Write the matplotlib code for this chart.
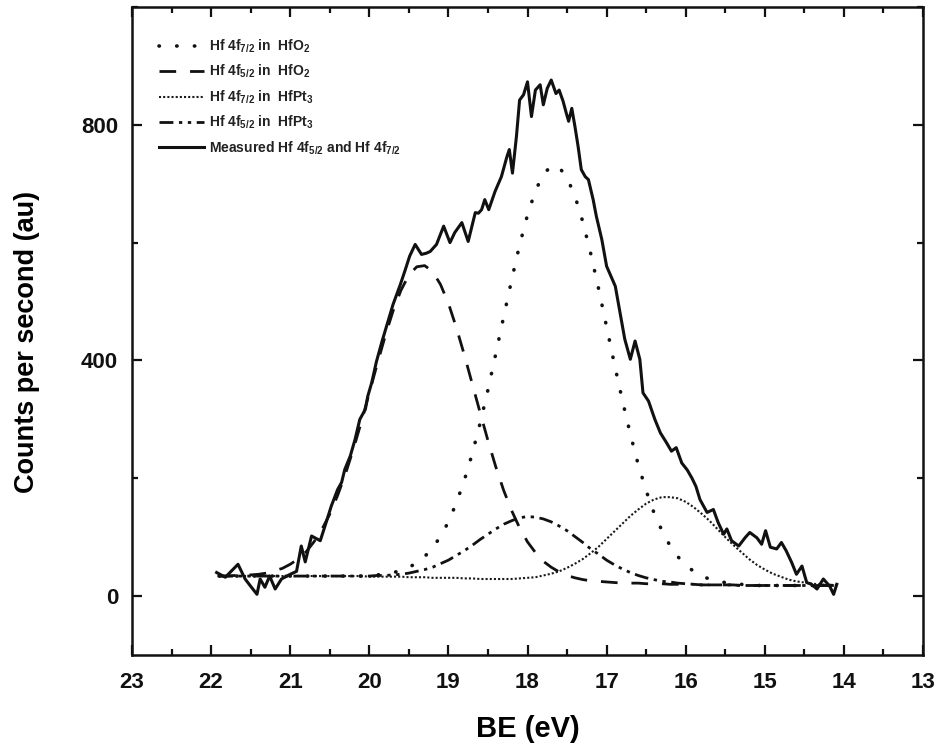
import matplotlib
matplotlib.use("Agg")
import matplotlib.pyplot as plt
from matplotlib.ticker import MultipleLocator

plt.rcParams['font.family'] = ['Liberation Sans', 'DejaVu Sans']
plt.rcParams['mathtext.fontset'] = 'custom'
plt.rcParams['mathtext.rm'] = 'Liberation Sans:bold'
plt.rcParams['mathtext.bf'] = 'Liberation Sans:bold'
plt.rcParams['mathtext.default'] = 'bf'

# Binding-energy grid for the fitted components (eV)
fit_be = [21.9, 21.8, 21.7, 21.6, 21.5, 21.4, 21.3, 21.2, 21.1, 21.0,
          20.9, 20.8, 20.7, 20.6, 20.5, 20.4, 20.3, 20.2, 20.1, 20.0,
          19.9, 19.8, 19.7, 19.6, 19.5, 19.4, 19.3, 19.2, 19.1, 19.0,
          18.9, 18.8, 18.7, 18.6, 18.5, 18.4, 18.3, 18.2, 18.1, 18.0,
          17.9, 17.8, 17.7, 17.6, 17.5, 17.4, 17.3, 17.2, 17.1, 17.0,
          16.9, 16.8, 16.7, 16.6, 16.5, 16.4, 16.3, 16.2, 16.1, 16.0,
          15.9, 15.8, 15.7, 15.6, 15.5, 15.4, 15.3, 15.2, 15.1, 15.0,
          14.9, 14.8, 14.7, 14.6, 14.5, 14.4, 14.3, 14.2, 14.1]

# Fitted components (background included)
hfo2_f72 = [34, 34, 34, 34, 34, 34, 34, 34, 34, 34,
            34, 34, 34, 34, 34, 34, 34, 34, 34, 35,
            36, 37, 40, 43, 49, 56, 67, 82, 101, 126,
            158, 196, 241, 293, 350, 412, 475, 537, 596, 647,
            688, 716, 730, 728, 710, 679, 635, 581, 521, 457,
            393, 332, 275, 223, 179, 141, 111, 86, 67, 53,
            42, 34, 29, 25, 23, 21, 20, 19, 18, 18,
            18, 18, 18, 18, 18, 18, 18, 18, 18]

hfo2_f52 = [34, 34, 35, 35, 36, 37, 39, 43, 47, 54,
            63, 75, 92, 113, 139, 171, 208, 250, 296, 345,
            394, 441, 484, 519, 545, 559, 561, 551, 529, 497,
            456, 410, 361, 312, 264, 219, 179, 145, 116, 92,
            74, 59, 49, 41, 35, 31, 28, 26, 25, 24,
            23, 22, 22, 22, 21, 21, 21, 20, 20, 20,
            20, 19, 19, 19, 19, 19, 18, 18, 18, 18,
            18, 18, 18, 18, 18, 18, 18, 18, 18]

hfpt3_f72 = [34, 34, 34, 34, 34, 34, 34, 34, 34, 34,
             34, 34, 34, 34, 34, 34, 34, 34, 34, 33,
             33, 33, 33, 33, 32, 32, 32, 31, 31, 31,
             31, 30, 30, 29, 29, 29, 29, 29, 30, 31,
             32, 35, 38, 42, 48, 55, 63, 73, 84, 97,
             110, 123, 136, 147, 157, 164, 168, 168, 166, 160,
             151, 140, 128, 114, 100, 87, 75, 63, 53, 45,
             38, 33, 28, 25, 23, 21, 20, 19, 19]

hfpt3_f52 = [34, 34, 34, 34, 34, 34, 34, 34, 34, 34,
             34, 34, 34, 34, 34, 34, 34, 34, 34, 34,
             35, 35, 36, 37, 39, 42, 45, 49, 55, 61,
             69, 77, 86, 96, 105, 114, 122, 128, 133, 135,
             134, 131, 126, 119, 111, 101, 91, 80, 71, 61,
             53, 46, 40, 35, 31, 28, 25, 24, 22, 21,
             20, 19, 19, 19, 19, 19, 18, 18, 18, 18,
             18, 18, 18, 18, 18, 18, 18, 18, 18]

# Measured Hf 4f spectrum
meas_be = [21.93, 21.82, 21.66, 21.57, 21.49, 21.42, 21.38, 21.32, 21.26, 21.19,
           21.11, 21.00, 20.92, 20.86, 20.81, 20.73, 20.62, 20.56, 20.48, 20.40,
           20.35, 20.31, 20.24, 20.18, 20.12, 20.05, 20.02, 19.97, 19.91, 19.84,
           19.76, 19.70, 19.61, 19.55, 19.49, 19.42, 19.34, 19.28, 19.23, 19.15,
           19.06, 18.98, 18.92, 18.83, 18.75, 18.66, 18.62, 18.58, 18.54, 18.49,
           18.41, 18.33, 18.26, 18.23, 18.19, 18.14, 18.10, 18.05, 18.00, 17.95,
           17.90, 17.84, 17.80, 17.75, 17.70, 17.64, 17.60, 17.55, 17.51, 17.48,
           17.44, 17.40, 17.36, 17.32, 17.27, 17.23, 17.17, 17.13, 17.06, 17.00,
           16.89, 16.83, 16.77, 16.70, 16.64, 16.58, 16.54, 16.47, 16.39, 16.32,
           16.25, 16.18, 16.12, 16.05, 15.98, 15.92, 15.87, 15.82, 15.73, 15.65,
           15.59, 15.52, 15.48, 15.42, 15.33, 15.25, 15.19, 15.10, 15.04, 14.99,
           14.93, 14.85, 14.79, 14.73, 14.66, 14.60, 14.53, 14.47, 14.41, 14.34,
           14.26, 14.18, 14.13, 14.09]
meas_cps = [40, 32, 54, 29, 15, 3, 29, 15, 34, 12,
            29, 37, 42, 85, 58, 102, 94, 119, 153, 181,
            193, 215, 238, 266, 300, 317, 339, 362, 398, 432,
            468, 495, 528, 552, 577, 597, 580, 582, 585, 597,
            628, 600, 617, 634, 602, 651, 650, 656, 673, 656,
            687, 712, 746, 758, 718, 780, 842, 851, 873, 814,
            859, 868, 834, 862, 876, 853, 859, 840, 820, 806,
            828, 797, 763, 724, 712, 707, 673, 645, 605, 560,
            526, 481, 436, 402, 433, 402, 345, 331, 300, 277,
            262, 246, 252, 226, 214, 200, 186, 164, 142, 147,
            125, 105, 114, 94, 85, 99, 108, 99, 88, 111,
            83, 80, 91, 77, 57, 37, 51, 23, 20, 12,
            29, 17, 3, 20]

labels = ['Hf 4f$_{7/2}$ in  HfO$_2$',
          'Hf 4f$_{5/2}$ in  HfO$_2$',
          'Hf 4f$_{7/2}$ in  HfPt$_3$',
          'Hf 4f$_{5/2}$ in  HfPt$_3$',
          'Measured Hf 4f$_{5/2}$ and Hf 4f$_{7/2}$']

fig = plt.figure(figsize=(9.42, 7.44), dpi=100)
ax = fig.add_axes([132 / 942, 1 - 655 / 744, (923 - 132) / 942, (655 - 7) / 744])

ax.plot(fit_be, hfo2_f72, color='#111111', lw=2.6,
        linestyle=(0, (0.1, 4.8)), dash_capstyle='round', label=labels[0])
ax.plot(fit_be, hfo2_f52, color='#111111', lw=2.0,
        linestyle=(0, (6.0, 5.0)), label=labels[1])
ax.plot(fit_be, hfpt3_f72, color='#1a1a1a', lw=1.5,
        linestyle=(0, (1.0, 1.0)), label=labels[2])
ax.plot(fit_be, hfpt3_f52, color='#111111', lw=2.0,
        linestyle=(0, (5.0, 2.0, 1.2, 2.0, 1.2, 2.0)), label=labels[3])
ax.plot(meas_be, meas_cps, color='#111111', lw=2.2, label=labels[4])

ax.set_xlim(23, 13)
ax.set_ylim(-100, 1000)
ax.xaxis.set_major_locator(MultipleLocator(1))
ax.xaxis.set_minor_locator(MultipleLocator(0.5))
ax.yaxis.set_major_locator(MultipleLocator(400))
ax.yaxis.set_minor_locator(MultipleLocator(200))
ax.tick_params(which='both', direction='in', top=True, right=True, width=1.6,
               labelsize=16, colors='#111111')
ax.tick_params(which='major', length=7)
ax.tick_params(axis='x', which='major', pad=12)
ax.tick_params(axis='y', which='major', pad=10)
ax.tick_params(which='minor', length=4)
for lab in ax.get_xticklabels() + ax.get_yticklabels():
    lab.set_fontweight('bold')
for sp in ax.spines.values():
    sp.set_linewidth(1.8)
    sp.set_color('#111111')

ax.set_xlabel('BE (eV)', fontsize=21, fontweight='bold', labelpad=16)
ax.set_ylabel('Counts per second (au)', fontsize=19.5, fontweight='bold')
ax.yaxis.set_label_coords(-0.116, 0.483)

leg = ax.legend(loc='upper left', bbox_to_anchor=(0.022, 0.968), frameon=False,
                prop={'size': 10, 'weight': 'bold'}, handlelength=3.2,
                handletextpad=0.4, labelspacing=0.58, borderpad=0.2)
for t in leg.get_texts():
    t.set_color('#222222')

fig.savefig('out.png', dpi=100)
